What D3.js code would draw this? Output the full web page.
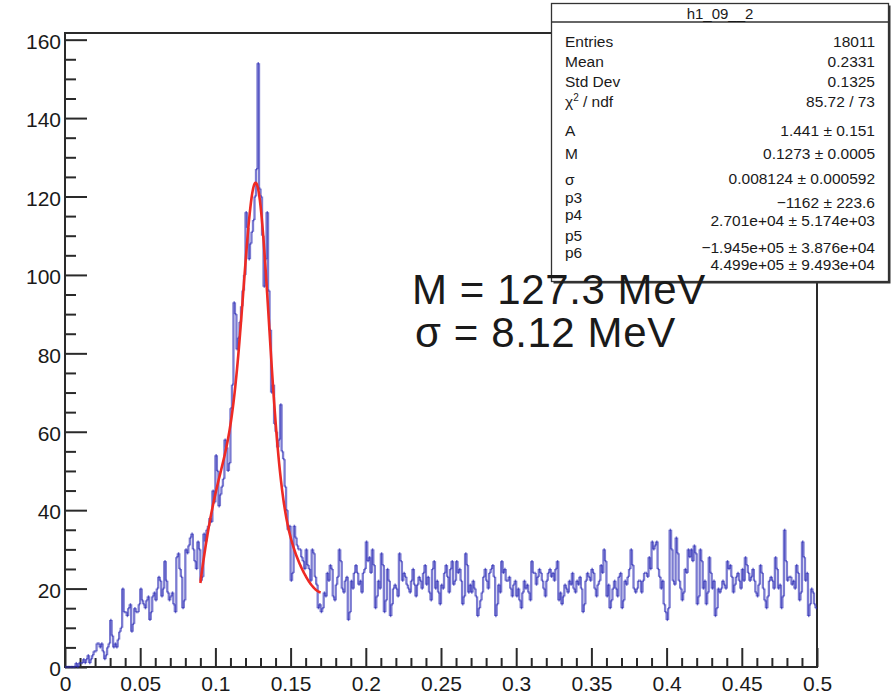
<!DOCTYPE html>
<html>
<head>
<meta charset="utf-8">
<script src="https://cdn.jsdelivr.net/npm/d3@7"></script>
<style>
  body { margin: 0; background: #fff; }
  svg { display: block; }
  text { font-family: "Liberation Sans", Arial, Helvetica, sans-serif; fill: #1a1a1a; }
</style>
</head>
<body>
<svg id="chart" width="892" height="700"></svg>
<script>
// Histogram h1_09__2: 500 bins over [0, 0.5]
const histRange = [0, 0.5];
const counts = [
  0, 0, 0, 0, 0, 0, 0, 1, 0, 1,
  1, 1, 2, 1, 2, 3, 1, 2, 3, 4,
  4, 6, 6, 5, 6, 4, 2, 3, 5, 6,
  12, 8, 5, 6, 5, 7, 9, 10, 20, 14,
  14, 13, 15, 16, 9, 11, 15, 14, 14, 16,
  20, 17, 16, 15, 17, 18, 12, 14, 18, 19,
  17, 20, 23, 22, 18, 20, 27, 22, 19, 17,
  18, 19, 16, 14, 28, 29, 25, 23, 15, 17,
  30, 29, 31, 33, 34, 30, 27, 25, 32, 30,
  22, 23, 34, 32, 35, 36, 38, 37, 45, 42,
  54, 50, 41, 44, 46, 48, 58, 56, 50, 52,
  66, 72, 93, 90, 81, 84, 88, 92, 96, 100,
  116, 112, 104, 108, 111, 114, 120, 127, 154, 122,
  120, 110, 97, 104, 116, 96, 86, 70, 72, 62,
  60, 56, 58, 67, 55, 53, 46, 40, 35, 36,
  22, 24, 36, 33, 31, 30, 30, 28, 27, 25,
  30, 26, 25, 22, 30, 29, 23, 21, 15, 16,
  14, 15, 19, 18, 24, 22, 26, 25, 18, 17,
  21, 23, 30, 27, 20, 19, 22, 23, 12, 14,
  22, 20, 24, 26, 24, 21, 22, 19, 24, 25,
  32, 27, 28, 24, 30, 26, 15, 18, 22, 20,
  29, 26, 14, 17, 25, 22, 13, 16, 20, 21,
  20, 18, 29, 27, 22, 24, 23, 21, 20, 19,
  22, 25, 21, 18, 21, 23, 22, 20, 24, 26,
  21, 23, 19, 17, 25, 27, 20, 22, 19, 16,
  21, 20, 24, 26, 23, 19, 25, 27, 21, 22,
  27, 24, 25, 22, 16, 18, 29, 26, 19, 21,
  19, 22, 20, 18, 13, 15, 17, 19, 23, 25,
  22, 20, 24, 25, 26, 23, 13, 16, 21, 19,
  27, 24, 25, 22, 22, 23, 20, 18, 21, 22,
  18, 20, 17, 15, 19, 22, 20, 21, 19, 17,
  27, 24, 24, 21, 23, 25, 24, 22, 20, 18,
  22, 24, 25, 23, 24, 22, 25, 27, 17, 19,
  16, 18, 21, 20, 19, 22, 21, 24, 20, 19,
  22, 21, 23, 20, 14, 16, 22, 24, 23, 22,
  25, 24, 20, 18, 21, 22, 26, 24, 30, 27,
  18, 21, 15, 17, 20, 22, 20, 18, 23, 24,
  15, 17, 22, 21, 23, 25, 30, 26, 20, 19,
  20, 22, 22, 19, 22, 24, 24, 23, 28, 25,
  32, 30, 31, 32, 25, 23, 20, 22, 16, 14,
  12, 15, 35, 30, 22, 21, 33, 29, 22, 20,
  17, 19, 25, 24, 30, 28, 30, 27, 31, 29,
  16, 18, 30, 27, 20, 22, 16, 19, 28, 24,
  20, 22, 13, 15, 20, 19, 20, 22, 21, 20,
  27, 25, 26, 23, 19, 21, 23, 24, 22, 20,
  25, 22, 28, 26, 24, 22, 23, 25, 22, 19,
  18, 21, 26, 24, 20, 17, 15, 18, 22, 23,
  22, 20, 28, 25, 20, 21, 15, 18, 35, 27,
  22, 23, 23, 21, 22, 20, 26, 24, 17, 19,
  32, 28, 22, 24, 13, 16, 20, 19, 16, 15
];

// Fit: Gaussian (area A, mean M, width sigma) + cubic background p3..p6
const fitRange = [0.09, 0.17];
const fitA = 1.441, fitM = 0.1273, fitSigma = 0.008124;
const fitPoly = [-1162, 2.701e4, -1.945e5, 4.499e5];

// Axis ticks
const xMajorTicks = [0, 0.05, 0.1, 0.15, 0.2, 0.25, 0.3, 0.35, 0.4, 0.45, 0.5];
const xTickLabels = ["0", "0.05", "0.1", "0.15", "0.2", "0.25", "0.3", "0.35", "0.4", "0.45", "0.5"];
const yMajorTicks = [0, 20, 40, 60, 80, 100, 120, 140, 160];

// Statistics box
const statTitle = "h1_09__2";
const statLabels = ["Entries", "Mean", "Std Dev", "χ2 / ndf", "A", "M", "σ", "p3", "p4", "p5", "p6"];
const statValues = ["18011", "0.2331", "0.1325", "85.72 / 73", "1.441 ± 0.151", "0.1273 ± 0.0005",
  "0.008124 ± 0.000592", "−1162 ± 223.6", "2.701e+04 ± 5.174e+03",
  "−1.945e+05 ± 3.876e+04", "4.499e+05 ± 9.493e+04"];

// Annotation
const annotations = ["M = 127.3 MeV", "σ = 8.12 MeV"];

// ---------------------------------------------------------------
const svg = d3.select("#chart");
const frame = { left: 65, right: 817, top: 33, bottom: 667 };
const nBins = counts.length;
const binW = (histRange[1] - histRange[0]) / nBins;
const yMax = 1.05 * d3.max(counts);

const x = d3.scaleLinear().domain(histRange).range([frame.left, frame.right]);
const y = d3.scaleLinear().domain([0, yMax]).range([frame.bottom, frame.top]);

// Minor ticks
const xMinor = d3.range(0, 51).map(i => i * 0.01).filter((v, i) => i % 5 !== 0);
const yMinor = d3.range(0, 33).map(i => i * 5).filter(v => v % 20 !== 0 && v <= yMax);

const axisStyle = g => {
  g.select(".domain").remove();
  g.selectAll(".tick line").attr("stroke", "#2a2a2a").attr("stroke-width", 2);
  g.selectAll(".tick text").attr("font-size", 21).attr("fill", "#1a1a1a")
    .attr("font-family", "Liberation Sans, Arial, sans-serif");
};

// X axis (ticks point into the frame)
svg.append("g").attr("transform", `translate(0,${frame.bottom})`)
  .call(d3.axisBottom(x).tickValues(xMinor).tickSize(-9).tickFormat(""))
  .call(axisStyle);
svg.append("g").attr("transform", `translate(0,${frame.bottom})`)
  .call(d3.axisBottom(x).tickValues(xMajorTicks).tickSize(-19).tickPadding(8)
    .tickFormat((d, i) => xTickLabels[i]))
  .call(axisStyle)
  .call(g => g.selectAll(".tick text").attr("dy", "0.71em").attr("y", 9));

// Y axis
svg.append("g").attr("transform", `translate(${frame.left},0)`)
  .call(d3.axisLeft(y).tickValues(yMinor).tickSize(-11).tickFormat(""))
  .call(axisStyle);
svg.append("g").attr("transform", `translate(${frame.left},0)`)
  .call(d3.axisLeft(y).tickValues(yMajorTicks).tickSize(-22).tickPadding(4).tickFormat(d3.format("d")))
  .call(axisStyle)
  .call(g => g.selectAll(".tick text").attr("dy", "0.42em"));

// Frame
svg.append("rect")
  .attr("x", frame.left).attr("y", frame.top)
  .attr("width", frame.right - frame.left).attr("height", frame.bottom - frame.top)
  .attr("fill", "none").attr("stroke", "#2a2a2a").attr("stroke-width", 2);

// Histogram outline: individual step segments, semi-transparent so joints look darker
const segs = [];
counts.forEach((c, i) => {
  const x0 = histRange[0] + i * binW, x1 = x0 + binW;
  segs.push({ x1: x(x0), y1: y(c), x2: x(x1), y2: y(c) });
  if (i < nBins - 1 && counts[i + 1] !== c) {
    segs.push({ x1: x(x1), y1: y(c), x2: x(x1), y2: y(counts[i + 1]) });
  }
});
svg.append("g").attr("class", "hist")
  .selectAll("line").data(segs).join("line")
  .attr("x1", d => d.x1).attr("y1", d => d.y1)
  .attr("x2", d => d.x2).attr("y2", d => d.y2)
  .attr("stroke", "#2a2ab4").attr("stroke-opacity", 0.62)
  .attr("stroke-width", 2.3).attr("stroke-linecap", "butt");

// Fit function
const fitFn = v => fitA / (fitSigma * Math.sqrt(2 * Math.PI)) * Math.exp(-0.5 * ((v - fitM) / fitSigma) ** 2)
  + fitPoly[0] + fitPoly[1] * v + fitPoly[2] * v * v + fitPoly[3] * v * v * v;
const fitPts = d3.range(0, 201).map(i => fitRange[0] + (fitRange[1] - fitRange[0]) * i / 200);
svg.append("path")
  .datum(fitPts)
  .attr("d", d3.line().x(d => x(d)).y(d => y(fitFn(d))))
  .attr("fill", "none").attr("stroke", "#ee2a24").attr("stroke-width", 2.6)
  .attr("stroke-linejoin", "round");

// Statistics box
const box = { x: 551.5, y: 3.5, w: 337, h: 278, titleH: 18.5 };
svg.append("rect").attr("x", box.x + 2).attr("y", box.y + 2).attr("width", box.w).attr("height", box.h)
  .attr("fill", "#333");
svg.append("rect").attr("x", box.x).attr("y", box.y).attr("width", box.w).attr("height", box.h)
  .attr("fill", "#fff").attr("stroke", "#333").attr("stroke-width", 1.3);
svg.append("line").attr("x1", box.x).attr("x2", box.x + box.w)
  .attr("y1", box.y + box.titleH).attr("y2", box.y + box.titleH)
  .attr("stroke", "#333").attr("stroke-width", 1.3);
svg.append("text").attr("x", box.x + box.w / 2).attr("y", 18.5)
  .attr("text-anchor", "middle").attr("font-size", 15).text(statTitle);

const labelBase = [47, 67, 87, 107, 136, 159, 185, 202.5, 220, 240.5, 257.5];
const valueBase = [47, 67, 87, 107, 136, 159, 183.5, 207.5, 225.5, 252.5, 269.5];
const statG = svg.append("g").attr("font-size", 15.5);
statLabels.forEach((lab, i) => {
  const t = statG.append("text").attr("x", 565).attr("y", labelBase[i]);
  if (lab.startsWith("χ2")) {
    t.append("tspan").text("χ");
    t.append("tspan").attr("font-size", 10).attr("dy", -6).text("2");
    t.append("tspan").attr("dy", 6).text(" / ndf");
  } else {
    t.text(lab);
  }
  statG.append("text").attr("x", 875).attr("y", valueBase[i])
    .attr("text-anchor", "end").text(statValues[i]);
});

// Mass and width annotation, written over the plot
svg.append("g").attr("font-size", 42).attr("letter-spacing", 0.6)
  .selectAll("text").data(annotations).join("text")
  .attr("x", (d, i) => i === 0 ? 412 : 415)
  .attr("y", (d, i) => i === 0 ? 304 : 347)
  .attr("fill", "#111")
  .text(d => d);
</script>
</body>
</html>
